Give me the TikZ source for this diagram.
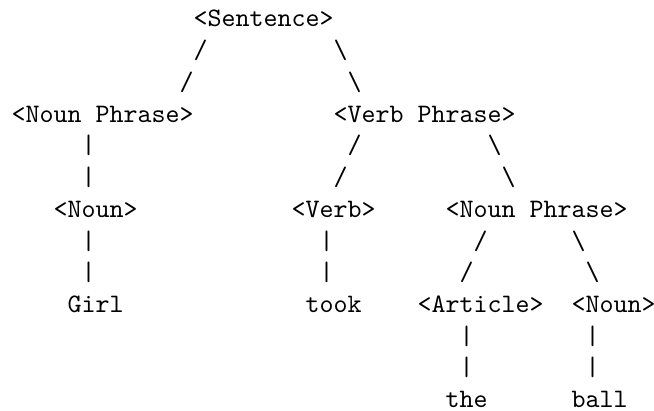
\documentclass[tikz,border=0pt]{standalone}
\usepackage{tikz}

\begin{document}
\begin{tikzpicture}[x=5.25pt, y=11.9pt,
    tok/.style={anchor=base west, inner sep=0pt, font=\ttfamily}]
    \useasboundingbox (-4.2pt,10.1pt) rectangle (241.05pt,-144.0pt);

    % Constituents
    \foreach \c/\r/\lbl/\txt in {
        13/0/sent/{<Sentence>},
        0/3/np/{<Noun Phrase>},
        23/3/vp/{<Verb Phrase>},
        3/6/nounA/{<Noun>},
        20/6/verb/{<Verb>},
        31/6/npB/{<Noun Phrase>},
        4/9/girl/{Girl},
        21/9/took/{took},
        29/9/art/{<Article>},
        40/9/nounB/{<Noun>},
        31/12/the/{the},
        40/12/ball/{ball}
    } {
        \node[tok] (\lbl) at (\c,-\r) {\txt};
    }

    % Branches
    \foreach \c/\r in {13/1, 12/2, 24/4, 23/5, 33/7, 32/8}
        \node[tok] (sl-\c-\r) at (\c,-\r) {/};
    \foreach \c/\r in {23/1, 24/2, 34/4, 35/5, 40/7, 41/8}
        \node[tok] (bs-\c-\r) at (\c,-\r) {\textbackslash};
    \foreach \c/\r in {5/4, 5/5, 5/7, 5/8, 22/7, 22/8, 32/10, 32/11, 41/10, 41/11}
        \node[tok] (bar-\c-\r) at (\c,-\r) {|};
\end{tikzpicture}
\end{document}
